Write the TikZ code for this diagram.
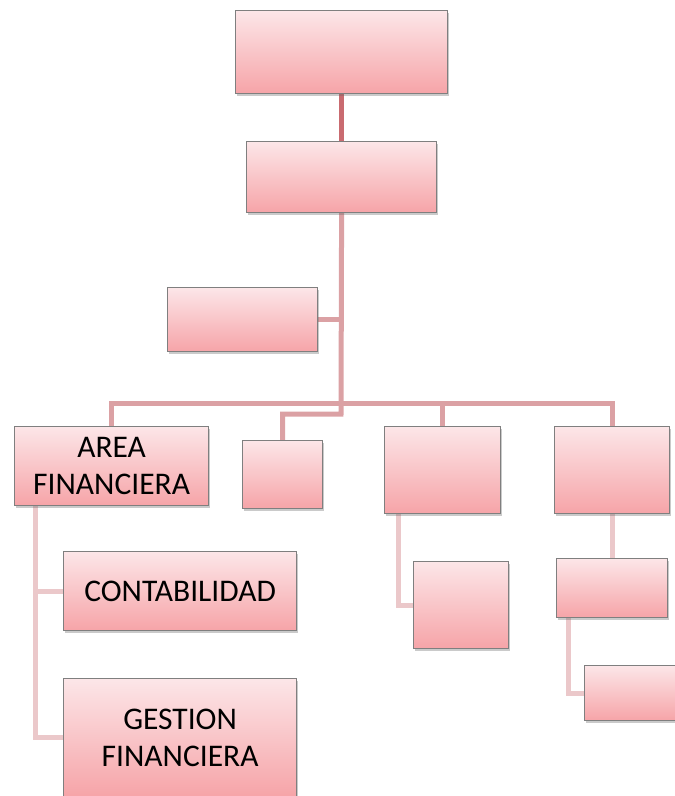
\documentclass[tikz,border=0pt]{standalone}
\usepackage{fontspec}
\setmainfont{Carlito}
\usetikzlibrary{shadows,backgrounds,calc}
\definecolor{topfill}{HTML}{FCE6E8}
\definecolor{botfill}{HTML}{F6A4A8}
\definecolor{edgegray}{HTML}{7F7F7F}
\definecolor{linkA}{HTML}{C96B70}
\definecolor{linkB}{HTML}{DBA1A4}
\definecolor{linkC}{HTML}{EBC8CA}
\tikzset{
  orgbox/.style={draw=edgegray, line width=1.2pt, top color=topfill, bottom color=botfill,
    anchor=north west, inner sep=0pt, align=center, text=black,
    font=\fontsize{31.5}{37}\selectfont,
    drop shadow={shadow xshift=1.5pt, shadow yshift=-2.5pt, opacity=0.35, fill=black!60}},
  linkmain/.style={draw=linkA, line width=5pt},
  linkbus/.style={draw=linkB, line width=5pt, line join=miter},
  linklow/.style={draw=linkC, line width=5pt},
}
\begin{document}
\begin{tikzpicture}[x=1pt,y=1pt]
\useasboundingbox (0,0) rectangle (675,-796);
\clip (0,0) rectangle (675,-796);
\node[orgbox, minimum width=212pt, minimum height=83pt] (n1) at (235,-10) {};
\node[orgbox, minimum width=190pt, minimum height=71pt] (n2) at (246,-141) {};
\node[orgbox, minimum width=150pt, minimum height=64pt] (n3) at (167,-287) {};
\node[orgbox, minimum width=194pt, minimum height=79pt] (n4) at (14,-426) {AREA\\FINANCIERA};
\node[orgbox, minimum width=80pt, minimum height=68pt] (n5) at (242,-440) {};
\node[orgbox, minimum width=116pt, minimum height=87pt] (n6) at (384,-426) {};
\node[orgbox, minimum width=115pt, minimum height=87pt] (n7) at (554,-426) {};
\node[orgbox, minimum width=233pt, minimum height=79pt] (n8) at (63,-551) {CONTABILIDAD};
\node[orgbox, minimum width=233pt, minimum height=118pt] (n9) at (63,-678) {GESTION\\FINANCIERA};
\node[orgbox, minimum width=95pt, minimum height=87pt] (n10) at (413,-561) {};
\node[orgbox, minimum width=111pt, minimum height=59pt] (n11) at (556,-558) {};
\node[orgbox, minimum width=100pt, minimum height=55pt] (n12) at (584,-665) {};
\coordinate (j) at (341,-403);
\coordinate (k) at (341,-414);
\begin{scope}[on background layer]
\draw[linkmain] (n1.south) -- (n2.north);
\draw[linkbus] (n2.south) -- (k) -| (n5.north);
\draw[linkbus] (n3.east) -- (n3.east -| j);
\draw[linkbus] (n4.north) |- (n7.north |- j) -- (n7.north);
\draw[linkbus] (n6.north) -- (n6.north |- j);
\draw[linklow] ([xshift=21pt]n4.south west) |- (n8.west);
\draw[linklow] ([xshift=21pt]n4.south west) |- (n9.west);
\draw[linklow] ([xshift=14pt]n6.south west) |- (n10.west);
\draw[linklow] (n7.south) -- (n11.north);
\draw[linklow] ([xshift=12pt]n11.south west) |- (n12.west);
\end{scope}
\end{tikzpicture}
\end{document}
